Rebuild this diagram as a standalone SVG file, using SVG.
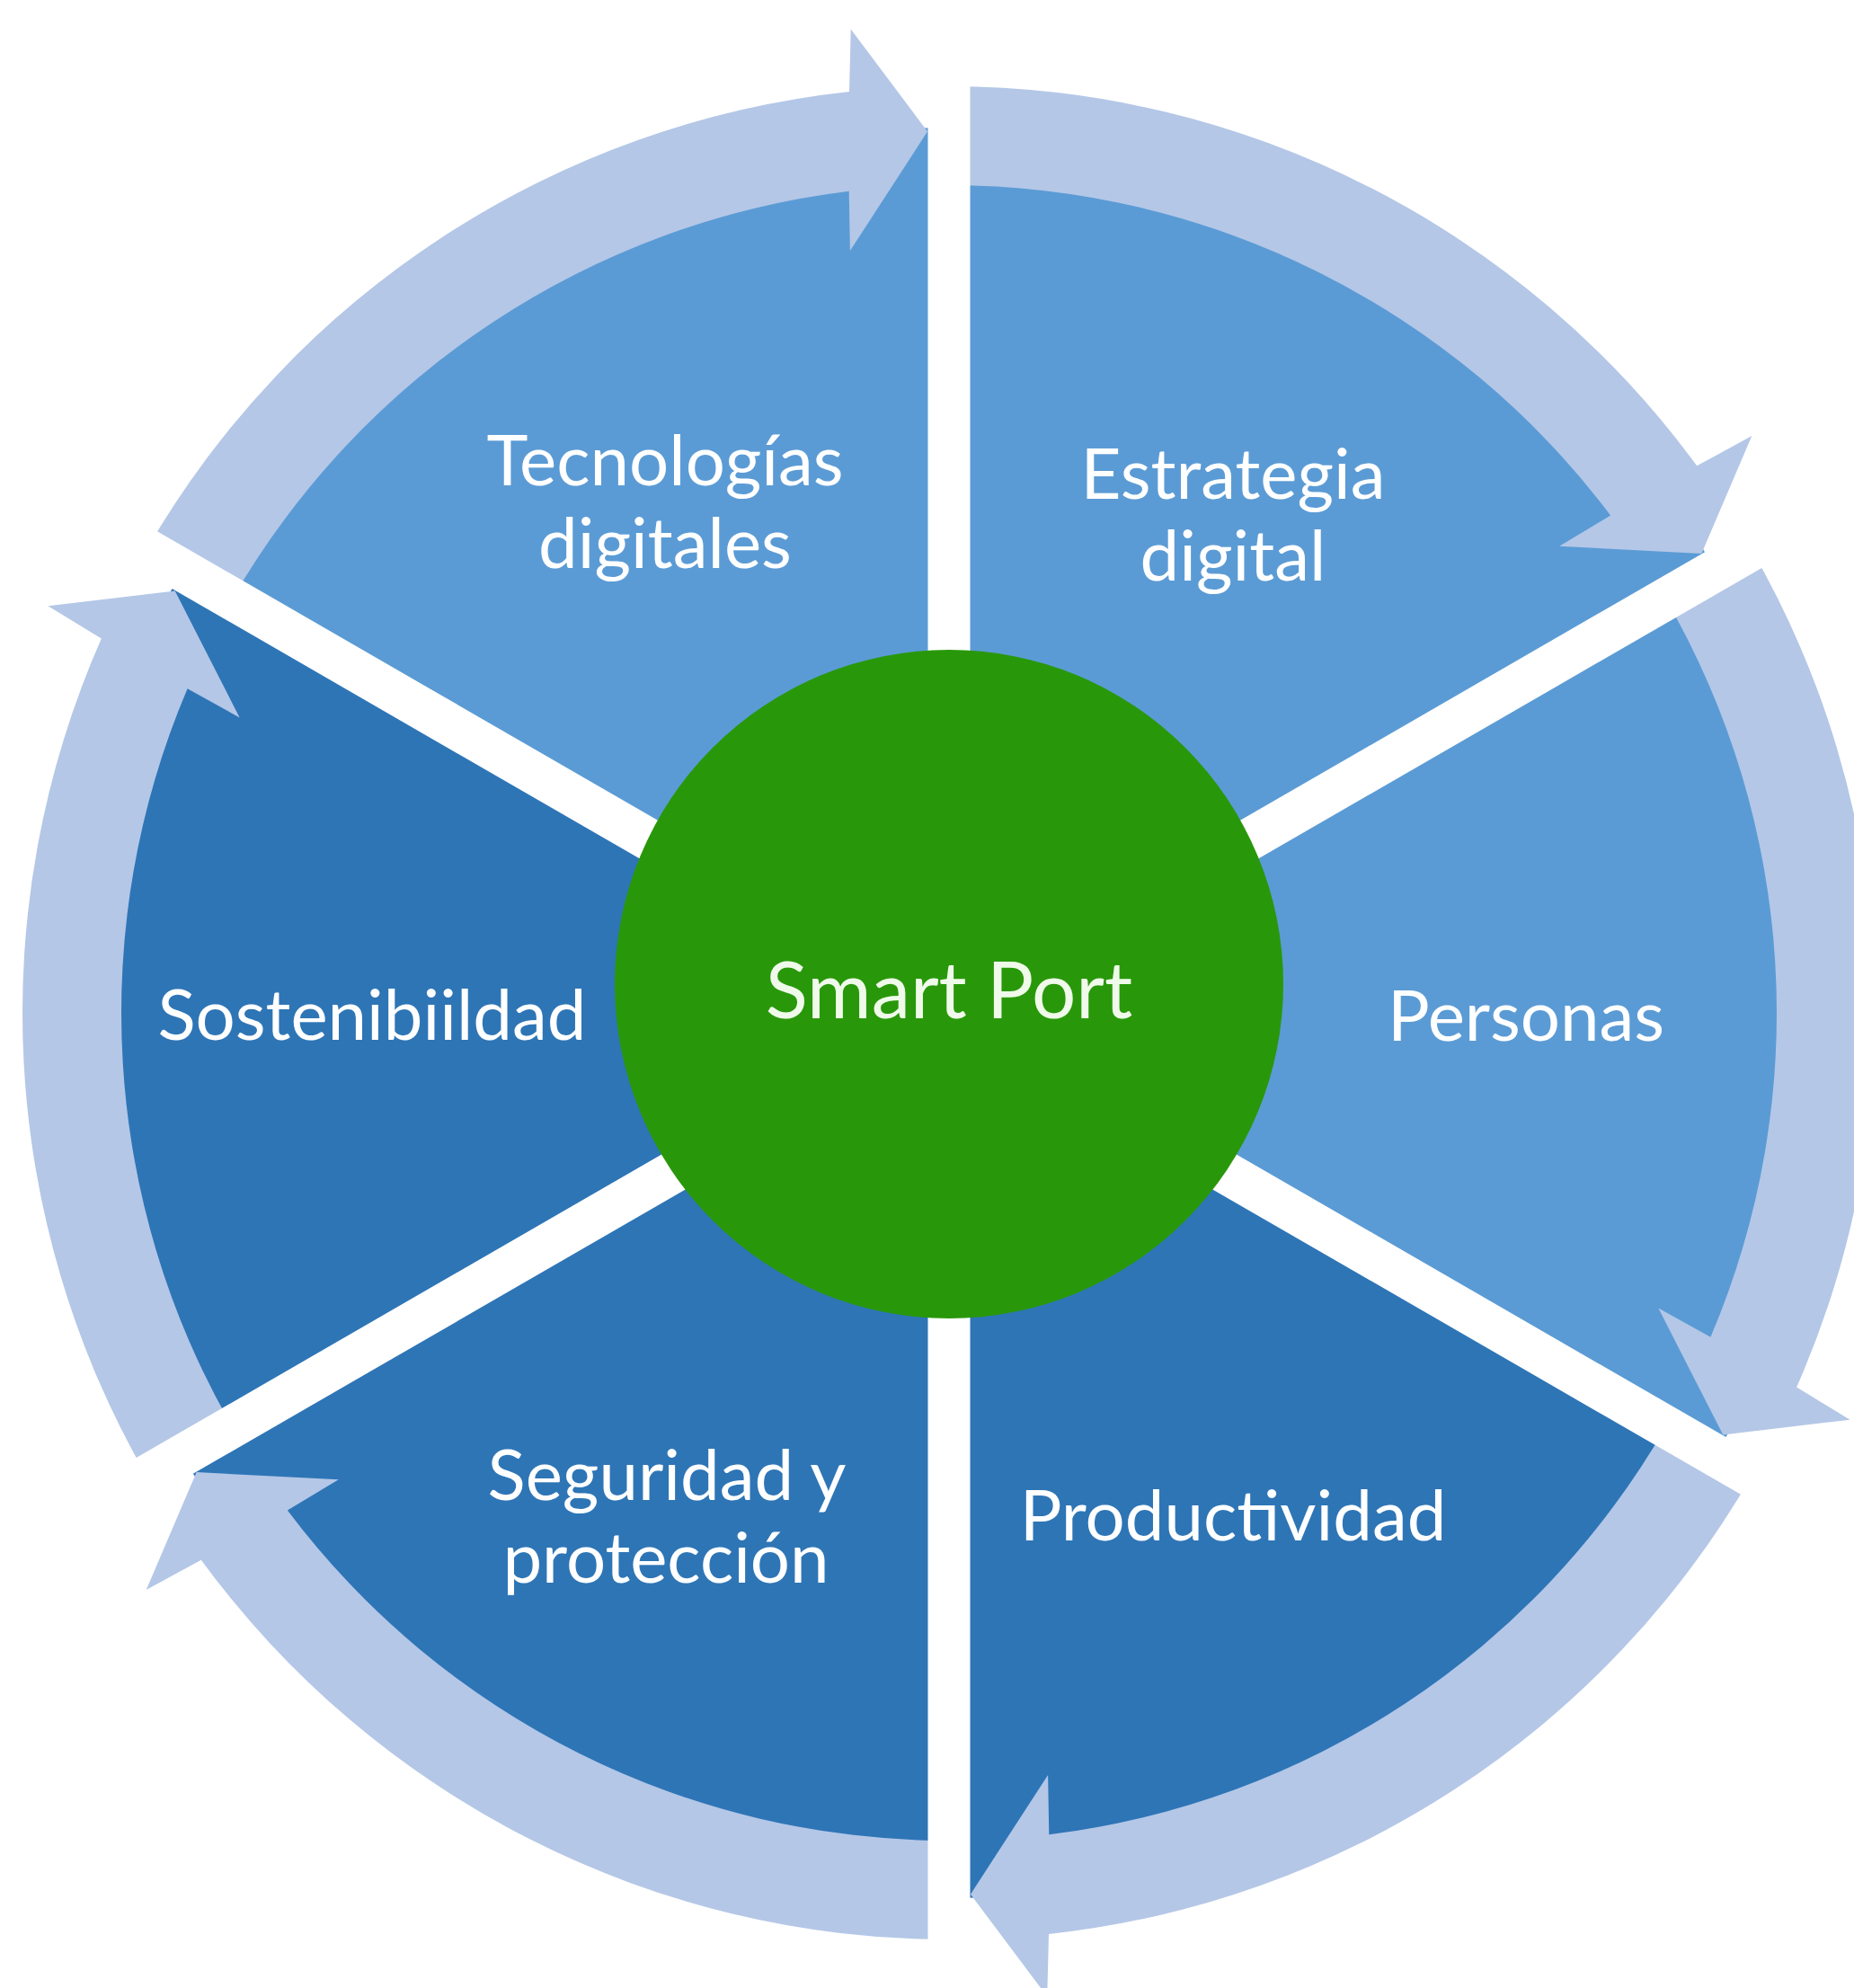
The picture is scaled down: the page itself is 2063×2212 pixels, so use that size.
<svg xmlns="http://www.w3.org/2000/svg" xmlns:xlink="http://www.w3.org/1999/xlink" width="2063" height="2212" viewBox="0 0 2063 2212">
  <style>
    .light { fill: #5B9BD5; }
    .dark { fill: #2E75B6; }
    .arrow { fill: #B4C7E7; }
    .gap { stroke: #FFFFFF; stroke-width: 47; fill: none; }
    .label { font-family: Lato, "Open Sans", "Liberation Sans", sans-serif; font-size: 78px; fill: #FFFFFF; text-anchor: middle; }
    .center-label { font-family: Lato, "Open Sans", "Liberation Sans", sans-serif; font-size: 87px; fill: #F0FAEA; text-anchor: middle; }
  </style>
  <defs>
    <path id="cyc-arrow" d="M -892.87 -515.5 A 1031 1031 0 0 1 -110.99 -1025.01 L -109.25 -1094.57 L -23.97 -980.71 L -110.12 -847.88 L -111.29 -914.25 A 921 921 0 0 0 -797.61 -460.5 Z"/>
  </defs>
  <rect x="0" y="0" width="2063" height="2212" fill="#FFFFFF"/>

  <g id="node-tecnologias">
    <path class="light" d="M 1056 1127 L 202.97 634.5 A 985 985 0 0 1 1056 142 Z"/>
    <text class="label" x="740" y="540">Tecnologías</text>
    <text class="label" x="740" y="632">digitales</text>
  </g>
  <g id="node-estrategia">
    <path class="light" d="M 1056 1127 L 1056 142 A 985 985 0 0 1 1909.03 634.5 Z"/>
    <text class="label" x="1372" y="555">Estrategia</text>
    <text class="label" x="1372" y="646">digital</text>
  </g>
  <g id="node-personas">
    <path class="light" d="M 1056 1127 L 1909.03 634.5 A 985 985 0 0 1 1909.03 1619.5 Z"/>
    <text class="label" x="1698" y="1158">Personas</text>
  </g>
  <g id="node-productividad">
    <path class="dark" d="M 1056 1127 L 1909.03 1619.5 A 985 985 0 0 1 1056 2112 Z"/>
    <text class="label" x="1372" y="1714">Productividad</text>
  </g>
  <g id="node-seguridad">
    <path class="dark" d="M 1056 1127 L 1056 2112 A 985 985 0 0 1 202.97 1619.5 Z"/>
    <text class="label" x="742" y="1669">Seguridad y</text>
    <text class="label" x="741" y="1761">protección</text>
  </g>
  <g id="node-sostenibilidad">
    <path class="dark" d="M 1056 1127 L 202.97 1619.5 A 985 985 0 0 1 202.97 634.5 Z"/>
    <text class="label" x="414" y="1157">Sostenibiildad</text>
  </g>

  <g id="connectors">
    <use xlink:href="#cyc-arrow" class="arrow" transform="translate(1056 1127)"/>
    <use xlink:href="#cyc-arrow" class="arrow" transform="translate(1056 1127) rotate(60)"/>
    <use xlink:href="#cyc-arrow" class="arrow" transform="translate(1056 1127) rotate(120)"/>
    <use xlink:href="#cyc-arrow" class="arrow" transform="translate(1056 1127) rotate(180)"/>
    <use xlink:href="#cyc-arrow" class="arrow" transform="translate(1056 1127) rotate(240)"/>
    <use xlink:href="#cyc-arrow" class="arrow" transform="translate(1056 1127) rotate(300)"/>
  </g>

  <g id="gaps">
    <line class="gap" x1="1056" y1="-100" x2="1056" y2="2312"/>
    <line class="gap" x1="2138.5" y1="502" x2="-26.5" y2="1752"/>
    <line class="gap" x1="-26.5" y1="502" x2="2138.5" y2="1752"/>
  </g>

  <g id="node-smart-port">
    <circle cx="1056" cy="1095" r="372" fill="#28980A"/>
    <text class="center-label" x="1056" y="1133">Smart Port</text>
  </g>
</svg>
